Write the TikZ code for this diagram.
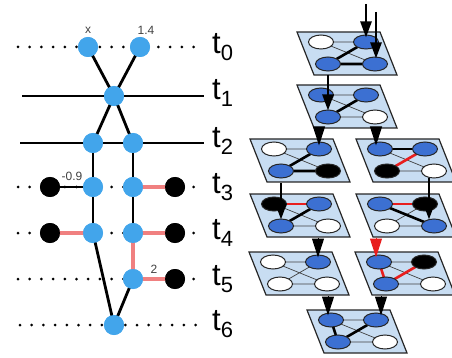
\documentclass[tikz,border=0pt]{standalone}
\usepackage{fontspec}
\setmainfont{Liberation Sans}
\usetikzlibrary{arrows.meta,shapes.geometric}
\definecolor{lblue}{HTML}{42A5EB}
\definecolor{pinkc}{HTML}{F08080}
\definecolor{pfill}{HTML}{C8DDF2}
\definecolor{nblue}{HTML}{3C70D2}
\definecolor{redc}{HTML}{E81E1E}
\newcommand\tlab[1]{t\raisebox{-0.22em}{\fontsize{22}{22}\selectfont #1}}
\newcommand\panelbg[3]{%
  \draw[panelbox] (#2,#3) -- ++(83,0) -- ++(17,43) -- ++(-83,0) -- cycle;
  \coordinate (#1a) at (#2+24,#3+10);
  \coordinate (#1b) at (#2+69,#3+10);
  \coordinate (#1c) at (#2+31,#3+32);
  \coordinate (#1d) at (#2+78,#3+32);}
\newcommand\panelnodes[5]{%
  \node[en,fill=#2] (#1A) at (#1a) {};
  \node[en,fill=#3] (#1B) at (#1b) {};
  \node[en,fill=#4] (#1C) at (#1c) {};
  \node[en,fill=#5] (#1D) at (#1d) {};}
\begin{document}
\begin{tikzpicture}[x=1pt,y=-1pt,
  lnode/.style={circle,fill=lblue,minimum size=20pt,inner sep=0pt},
  knode/.style={circle,fill=black,minimum size=20pt,inner sep=0pt},
  dotline/.style={line width=3pt,dash pattern=on 0pt off 11.7pt,line cap=round},
  bline/.style={line width=2.8pt},
  pinkline/.style={line width=3.2pt,color=pinkc},
  tl/.style={font=\fontsize{31}{31}\selectfont,anchor=west,inner sep=0pt},
  slab/.style={font=\fontsize{12}{12}\selectfont,text=black!75,inner sep=0pt},
  panelbox/.style={fill=pfill,draw=black!85,line width=1.2pt},
  tedge/.style={draw=black!75,line width=0.7pt},
  kedge/.style={line width=2.6pt},
  redl/.style={line width=2.6pt,draw=redc},
  en/.style={ellipse,minimum width=25pt,minimum height=14pt,draw=black!85,line width=1pt,inner sep=0pt},
  barrow/.style={line width=2.5pt,-{Triangle[length=16pt,width=11pt]}},
  tarrow/.style={line width=1pt,-{Triangle[length=19pt,width=12pt]}}
]
\useasboundingbox (0,0) rectangle (452,358);
% ---------- left diagram ----------
\coordinate (d0s) at (18,47);  \coordinate (d0e) at (200,47);
\coordinate (d3s) at (18,187); \coordinate (d3e) at (200,187);
\coordinate (d4s) at (18,233); \coordinate (d4e) at (200,233);
\coordinate (d5s) at (18,279); \coordinate (d5e) at (200,279);
\coordinate (d6s) at (20,325); \coordinate (d6e) at (200,325);
\coordinate (h1s) at (22,96);  \coordinate (h1e) at (204,96);
\coordinate (h2s) at (20,143); \coordinate (h2e) at (204,143);
\foreach \r in {0,3,4,5,6} \draw[dotline] (d\r s) -- (d\r e);
\draw[bline] (h1s) -- (h1e);
\draw[bline] (h2s) -- (h2e);

\node[lnode] (l0a) at (88,47) {};
\node[lnode] (l0b) at (140,47) {};
\node[lnode] (l1) at (114,96) {};
\node[lnode] (l2a) at (93,143) {};
\node[lnode] (l2b) at (133,143) {};
\node[knode] (l3k) at (50,187) {};
\node[lnode] (l3a) at (93,187) {};
\node[lnode] (l3b) at (133,187) {};
\node[knode] (l3r) at (175,187) {};
\node[knode] (l4k) at (50,233) {};
\node[lnode] (l4a) at (93,233) {};
\node[lnode] (l4b) at (133,233) {};
\node[knode] (l4r) at (175,233) {};
\node[lnode] (l5b) at (133,279) {};
\node[knode] (l5r) at (175,279) {};
\node[lnode] (l6) at (114,325) {};

\begin{scope}[bline]
\draw (l0a.center) -- (l1.center); \draw (l0b.center) -- (l1.center);
\draw (l1.center) -- (l2a.center); \draw (l1.center) -- (l2b.center);
\draw (l2a.center) -- (l4a.center); \draw (l2b.center) -- (l4b.center);
\draw (l3k.center) -- (l3a.center);
\draw (l4a.center) -- (l6.center); \draw (l5b.center) -- (l6.center);
\end{scope}
\draw[pinkline] (l3b.center) -- (l3r.center);
\draw[pinkline] (l4k.center) -- (l4a.center);
\draw[pinkline] (l4b.center) -- (l4r.center);
\draw[pinkline] (l4b.center) -- (l5b.center);
\draw[pinkline] (l5b.center) -- (l5r.center);
% nodes on top
\foreach \n in {l0a,l0b,l1,l2a,l2b,l3a,l3b,l4a,l4b,l5b,l6}
  \fill[lblue] (\n) circle (10pt);
\foreach \n in {l3k,l3r,l4k,l4r,l5r}
  \fill[black] (\n) circle (10pt);

\node[slab] (lx) at (88,30) {x};
\node[slab] (l14) at (146,30) {1.4};
\node[slab] (lm09) at (72,176) {-0.9};
\node[slab] (l2) at (154,269) {2};

\node[tl] (t0) at (212,47) {\tlab{0}};
\node[tl] (t1) at (212,93) {\tlab{1}};
\node[tl] (t2) at (212,141) {\tlab{2}};
\node[tl] (t3) at (212,187) {\tlab{3}};
\node[tl] (t4) at (212,233) {\tlab{4}};
\node[tl] (t5) at (212,279) {\tlab{5}};
\node[tl] (t6) at (212,324) {\tlab{6}};

% ---------- right diagram ----------
\panelbg{p1}{297}{32}
\draw[tedge] (p1a) -- (p1b) (p1a) -- (p1d);
\draw[kedge] (p1b) -- (p1c) -- (p1d);
\panelnodes{p1}{white}{nblue}{nblue}{nblue}

\panelbg{p2}{297}{85}
\draw[tedge] (p2a) -- (p2b) (p2a) -- (p2d) (p2c) -- (p2d);
\draw[kedge] (p2b) -- (p2c);
\panelnodes{p2}{nblue}{nblue}{nblue}{white}

\panelbg{p3}{250}{139}
\draw[tedge] (p3a) -- (p3b) (p3a) -- (p3d);
\draw[kedge] (p3b) -- (p3c) -- (p3d);
\panelnodes{p3}{white}{nblue}{nblue}{black}

\panelbg{p4}{356}{139}
\draw[tedge] (p4a) -- (p4d) (p4c) -- (p4d);
\draw[kedge] (p4a) -- (p4b);
\draw[redl] (p4b) -- (p4c);
\panelnodes{p4}{nblue}{nblue}{black}{white}

\panelbg{p5}{250}{194}
\draw[tedge] (p5a) -- (p5d) (p5c) -- (p5d);
\draw[redl] (p5a) -- (p5b);
\draw[kedge] (p5b) -- (p5c);
\panelnodes{p5}{black}{nblue}{nblue}{white}

\panelbg{p6}{356}{194}
\draw[tedge] (p6b) -- (p6c) (p6c) -- (p6d);
\draw[redl] (p6a) -- (p6b);
\draw[kedge] (p6a) -- (p6d);
\panelnodes{p6}{nblue}{black}{white}{nblue}

\panelbg{p7}{249}{252}
\draw[tedge] (p7a) -- (p7b) (p7a) -- (p7d) (p7b) -- (p7c) (p7c) -- (p7d);
\panelnodes{p7}{white}{nblue}{white}{white}

\panelbg{p8}{355}{252}
\draw[tedge] (p8a) -- (p8b) (p8a) -- (p8d) (p8c) -- (p8d);
\draw[redl] (p8a) -- (p8c) -- (p8b);
\panelnodes{p8}{nblue}{black}{nblue}{white}

\panelbg{p9}{307}{310}
\draw[tedge] (p9a) -- (p9b) (p9a) -- (p9d) (p9c) -- (p9d);
\draw[kedge] (p9a) -- (p9c) -- (p9b);
\panelnodes{p9}{nblue}{nblue}{nblue}{white}

% ---------- arrows ----------
\coordinate (in1) at (366,4);
\coordinate (in2) at (376,12);
\draw[barrow] (in1) -- ([yshift=-3pt]in1 |- p1B.north);
\draw[barrow] (in2) -- ([yshift=-2pt]in2 |- p1D.north);
\coordinate (s12) at (328,75);
\draw[barrow] (s12) -- ([yshift=-1pt]s12 |- p2C.north);
\coordinate (s35) at (281,183);
\draw[barrow] (s35) -- ([yshift=-1pt]s35 |- p5C.north);
\coordinate (s46) at (429,178);
\draw[barrow] (s46) -- ([yshift=-1pt]s46 |- p6D.north);

\coordinate (s23) at (319,128);
\draw[tarrow] (s23) -- ([yshift=-4pt]s23 |- p3B.north);
\coordinate (s24) at (376,128);
\draw[tarrow] (s24) -- ([yshift=-4pt]s24 |- p4A.north);
\coordinate (s57) at (318,238);
\draw[tarrow] (s57) -- ([yshift=-3pt]s57 |- p7B.north);
\coordinate (s68) at (376,238);
\draw[tarrow,draw=redc,fill=redc] (s68) -- ([yshift=-3pt]s68 |- p8A.north);
\coordinate (s79) at (328,296);
\draw[tarrow] (s79) -- ([yshift=-3pt]s79 |- p9A.north);
\coordinate (s89) at (381,296);
\draw[tarrow] (s89) -- ([yshift=-3pt]s89 |- p9B.north);
\end{tikzpicture}
\end{document}
